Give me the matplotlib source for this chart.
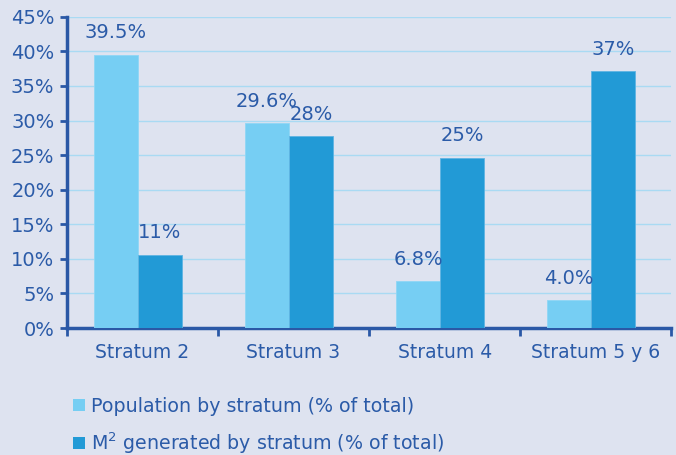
import numpy as np
import matplotlib.pyplot as plt
from matplotlib.patches import Patch

categories = ['Stratum 2', 'Stratum 3', 'Stratum 4', 'Stratum 5 y 6']
population = [39.5, 29.6, 6.8, 4.0]
m2_generated = [10.6, 27.7, 24.6, 37.1]
pop_labels = ['39.5%', '29.6%', '6.8%', '4.0%']
m2_labels = ['11%', '28%', '25%', '37%']
series_names = ['Population by stratum (% of total)',
                'M$^2$ generated by stratum (% of total)']

bg = '#dee3f0'
c_light = '#76cef3'
c_dark = '#229ad6'
txt = '#2b5ba8'
spine_c = '#2a58a6'
grid_c = '#a9daf3'

plt.rc('font', family='DejaVu Sans')
plt.rc('mathtext', default='regular')

fig = plt.figure(figsize=(6.76, 4.55), dpi=100)
fig.patch.set_facecolor(bg)
ax = fig.add_axes([0.099, 0.279, 0.894, 0.684])
ax.set_facecolor(bg)

x = np.arange(len(categories))
w = 0.29
off = -0.03
b1 = ax.bar(x + off - w/2, population, w, color=c_light, edgecolor='#8fd6f5', lw=0.6, zorder=3)
b2 = ax.bar(x + off + w/2, m2_generated, w, color=c_dark, edgecolor='#5fb4e2', lw=0.6, zorder=3)
ax.bar_label(b1, labels=pop_labels, padding=9, color=txt, fontsize=14)
ax.bar_label(b2, labels=m2_labels, padding=9, color=txt, fontsize=14)

ax.set_xlim(-0.5, len(categories) - 0.5)
ax.set_ylim(0, 45)
ax.set_yticks(np.arange(0, 46, 5))
ax.set_yticklabels([f'{v}%' for v in range(0, 46, 5)])
ax.yaxis.grid(True, color=grid_c, lw=1, zorder=0)

ax.set_xticks(np.arange(-0.5, len(categories), 1))
ax.set_xticklabels([])
ax.set_xticks(x, minor=True)
ax.set_xticklabels(categories, minor=True)
ax.tick_params(axis='x', which='major', length=6, width=2, color=spine_c, direction='out')
ax.tick_params(axis='x', which='minor', length=0, pad=11, labelsize=13.5, labelcolor=txt)
ax.tick_params(axis='y', length=5, width=2, color=spine_c, labelsize=14, labelcolor=txt, pad=4)

for s in ['top', 'right']:
    ax.spines[s].set_visible(False)
for s in ['left', 'bottom']:
    ax.spines[s].set_color(spine_c)
    ax.spines[s].set_linewidth(2.5)

handles = [Patch(facecolor=c_light), Patch(facecolor=c_dark)]
fig.legend(handles, series_names, loc='upper left', bbox_to_anchor=(0.097, 0.145),
           frameon=False, fontsize=13.7, labelcolor=txt, handlelength=0.62,
           handleheight=0.62, handletextpad=0.3, labelspacing=0.78, borderaxespad=0)

fig.savefig('out.png', dpi=100, facecolor=bg)
